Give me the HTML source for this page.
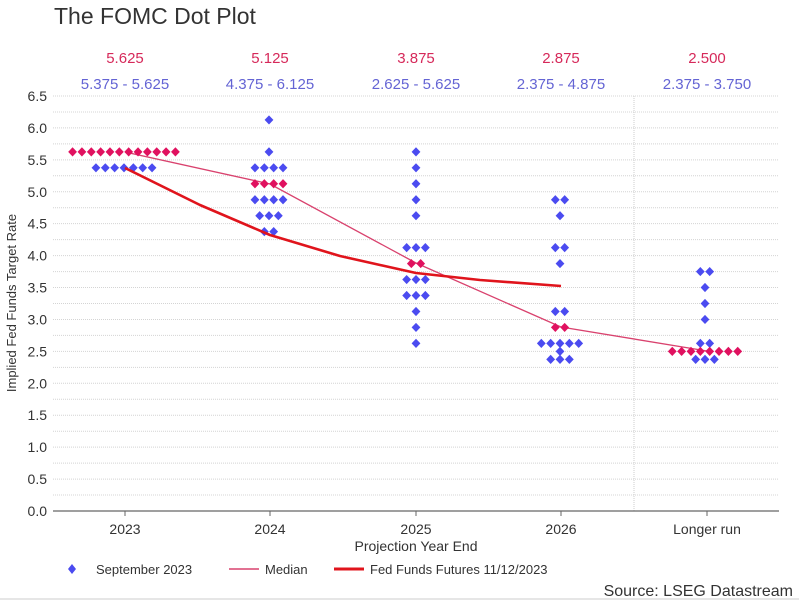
<!DOCTYPE html>
<html><head><meta charset="utf-8"><style>
html,body{margin:0;padding:0;background:#fff;}
svg{display:block;font-family:"Liberation Sans",sans-serif;}
</style></head><body>
<svg id="s" width="799" height="600" viewBox="0 0 799 600" xmlns="http://www.w3.org/2000/svg">
<rect width="799" height="600" fill="#fff"/>
<text x="54" y="24" font-size="23" fill="#333">The FOMC Dot Plot</text>
<g id="grid"></g>
<line x1="634" y1="96" x2="634" y2="511" stroke="#ccc" stroke-width="1" stroke-dasharray="1,1"/>
<line x1="53" y1="511" x2="779" y2="511" stroke="#666" stroke-width="1.2"/>
<g font-size="15" text-anchor="middle">
<text x="125" y="63" fill="#d6295a">5.625</text>
<text x="270" y="63" fill="#d6295a">5.125</text>
<text x="416" y="63" fill="#d6295a">3.875</text>
<text x="561" y="63" fill="#d6295a">2.875</text>
<text x="707" y="63" fill="#d6295a">2.500</text>
<text x="125" y="89" fill="#6464d4">5.375 - 5.625</text>
<text x="270" y="89" fill="#6464d4">4.375 - 6.125</text>
<text x="416" y="89" fill="#6464d4">2.625 - 5.625</text>
<text x="561" y="89" fill="#6464d4">2.375 - 4.875</text>
<text x="707" y="89" fill="#6464d4">2.375 - 3.750</text>
</g>
<g font-size="14" fill="#333" text-anchor="middle">
<text x="125" y="534">2023</text>
<text x="270" y="534">2024</text>
<text x="416" y="534">2025</text>
<text x="561" y="534">2026</text>
<text x="707" y="534">Longer run</text>
<text x="416" y="551">Projection Year End</text>
</g>
<text transform="translate(16,303) rotate(-90)" font-size="13" fill="#333" text-anchor="middle">Implied Fed Funds Target Rate</text>
<g id="dots"></g>
<polyline points="125,152 270,184 416,263 561,327 707,351" fill="none" stroke="#d9426e" stroke-width="1.3"/>
<polyline points="125,168 200,205 270,235 340,256 416,273 480,280 561,286" fill="none" stroke="#e0141c" stroke-width="2.6" stroke-linejoin="round"/>
<g id="dots2"></g>
<g font-size="13" fill="#333">
<path d="M72 564 l4 5 l-4 5 l-4 -5z" fill="#4b4bf0"/>
<text x="96" y="574">September 2023</text>
<line x1="229" y1="569" x2="259" y2="569" stroke="#d9426e" stroke-width="1.5"/>
<text x="265" y="574">Median</text>
<line x1="334" y1="569" x2="364" y2="569" stroke="#e0141c" stroke-width="3"/>
<text x="370" y="574">Fed Funds Futures 11/12/2023</text>
</g>
<text x="793" y="596" font-size="16" fill="#333" text-anchor="end">Source: LSEG Datastream</text>
<line x1="0" y1="599" x2="799" y2="599" stroke="#ccc"/>
</svg>
<script>
var NS="http://www.w3.org/2000/svg";
function Y(v){return 511-v*63.85;}
var g=document.getElementById("grid");
for(var i=1;i<=26;i++){var v=i*0.25,y=Y(v);
 var l=document.createElementNS(NS,"line");l.setAttribute("x1",53);l.setAttribute("x2",779);l.setAttribute("y1",y);l.setAttribute("y2",y);
 l.setAttribute("stroke","#d4d4d4");l.setAttribute("stroke-dasharray","1,1");g.appendChild(l);}
for(var i=0;i<=13;i++){var v=i*0.5;var t=document.createElementNS(NS,"text");t.setAttribute("x",47);t.setAttribute("y",Y(v)+5);
 t.setAttribute("font-size","14");t.setAttribute("fill","#333");t.setAttribute("text-anchor","end");t.textContent=v.toFixed(1);g.appendChild(t);}
var ticks=[125,270,416,561,707];
ticks.forEach(function(x){var l=document.createElementNS(NS,"line");l.setAttribute("x1",x);l.setAttribute("x2",x);l.setAttribute("y1",511);l.setAttribute("y2",516);l.setAttribute("stroke","#666");g.appendChild(l);});
var data=[
 [124,[[5.625,12,1],[5.375,7,0]]],
 [269,[[6.125,1,0],[5.625,1,0],[5.375,4,0],[5.125,4,1],[4.875,4,0],[4.625,3,0],[4.375,2,0]]],
 [416,[[5.625,1,0],[5.375,1,0],[5.125,1,0],[4.875,1,0],[4.625,1,0],[4.125,3,0],[3.875,2,1],[3.625,3,0],[3.375,3,0],[3.125,1,0],[2.875,1,0],[2.625,1,0]]],
 [560,[[4.875,2,0],[4.625,1,0],[4.125,2,0],[3.875,1,0],[3.125,2,0],[2.875,2,1],[2.625,5,0],[2.5,1,0],[2.375,3,0]]],
 [705,[[3.75,2,0],[3.5,1,0],[3.25,1,0],[3.0,1,0],[2.625,2,0],[2.375,3,0],[2.5,8,1]]]
];
var d1=document.getElementById("dots"),d2=document.getElementById("dots2");
data.forEach(function(c){c[1].forEach(function(r){var y=Y(r[0]);var n=r[1];
 for(var k=0;k<n;k++){var x=c[0]+(k-(n-1)/2)*9.35;
  var p=document.createElementNS(NS,"path");p.setAttribute("d","M"+x+" "+(y-4.6)+" l4.4 4.6 l-4.4 4.6 l-4.4 -4.6z");
  p.setAttribute("fill",r[2]?"#e0115f":"#4b4bf0");(r[2]?d2:d1).appendChild(p);}});});
</script>
</body></html>
